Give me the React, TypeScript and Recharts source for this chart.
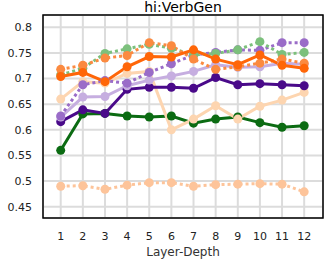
import React from "react";
import { LineChart, Line, XAxis, YAxis, CartesianGrid, ReferenceArea } from "recharts";

const layers = [1, 2, 3, 4, 5, 6, 7, 8, 9, 10, 11, 12];
const darkOrange = [0.704, 0.712, 0.694, 0.723, 0.743, 0.742, 0.756, 0.738, 0.727, 0.746, 0.726, 0.72];
const orangeDotted = [0.718, 0.726, 0.74, 0.745, 0.77, 0.764, 0.738, 0.718, 0.723, 0.73, 0.738, 0.73];
const greenDotted = [0.707, 0.72, 0.749, 0.758, 0.767, 0.759, 0.746, 0.749, 0.756, 0.772, 0.747, 0.751];
const purpleDotted = [0.627, 0.688, 0.696, 0.691, 0.712, 0.729, 0.746, 0.751, 0.756, 0.755, 0.77, 0.77];
const lavender = [0.625, 0.664, 0.665, 0.686, 0.697, 0.705, 0.714, 0.727, 0.722, 0.723, 0.73, 0.728];
const darkPurple = [0.616, 0.639, 0.632, 0.679, 0.683, 0.683, 0.681, 0.702, 0.688, 0.69, 0.688, 0.686];
const peach = [0.66, 0.694, 0.691, 0.71, 0.714, 0.6, 0.621, 0.647, 0.621, 0.646, 0.658, 0.673];
const darkGreen = [0.56, 0.631, 0.632, 0.627, 0.625, 0.627, 0.613, 0.621, 0.625, 0.614, 0.605, 0.608];
const paleDotted = [0.49, 0.491, 0.484, 0.492, 0.497, 0.497, 0.49, 0.493, 0.494, 0.495, 0.494, 0.479];

const yTicks = [0.45, 0.5, 0.55, 0.6, 0.65, 0.7, 0.75, 0.8];

const data = layers.map((l, i) => ({
  layer: l,
  darkOrange: darkOrange[i],
  orangeDotted: orangeDotted[i],
  greenDotted: greenDotted[i],
  purpleDotted: purpleDotted[i],
  lavender: lavender[i],
  darkPurple: darkPurple[i],
  peach: peach[i],
  darkGreen: darkGreen[i],
  paleDotted: paleDotted[i],
}));

const series = [
  { key: "paleDotted", color: "#fdc49a", dotted: true },
  { key: "darkGreen", color: "#0b6b12", dotted: false },
  { key: "peach", color: "#fdd5b0", dotted: false },
  { key: "darkPurple", color: "#4a0a8a", dotted: false },
  { key: "lavender", color: "#c6aee0", dotted: false },
  { key: "purpleDotted", color: "#9a6cc8", dotted: true },
  { key: "greenDotted", color: "#7cc07c", dotted: true },
  { key: "orangeDotted", color: "#fb8a40", dotted: true },
  { key: "darkOrange", color: "#ff6608", dotted: false },
];

const font = "'DejaVu Sans', Verdana, sans-serif";

export default function App() {
  return (
    <div style={{ position: "absolute", left: 0, top: 0, width: 324, height: 259, background: "#fff", fontFamily: font }}>
      <LineChart width={324} height={259} data={data} margin={{ top: 15, right: 1, left: 0, bottom: 0 }}>
        <text x={183} y={12} textAnchor="middle" fontSize={14} fill="#000" fontFamily={font}>
          hi:VerbGen
        </text>
        <CartesianGrid stroke="#dcdcdc" strokeWidth={2} vertical horizontal />
        <XAxis
          dataKey="layer"
          type="number"
          domain={[0.2, 12.85]}
          ticks={layers}
          tickLine={false}
          axisLine={false}
          height={41}
          tick={{ fontSize: 11, fill: "#222", fontFamily: font }}
          tickMargin={8}
          label={{ value: "Layer-Depth", position: "insideBottom", offset: 3, fontSize: 12, fill: "#333", fontFamily: font }}
        />
        <YAxis
          type="number"
          domain={[0.428, 0.824]}
          ticks={yTicks}
          tickLine={false}
          axisLine={false}
          width={43}
          tick={{ fontSize: 11, fill: "#222", fontFamily: font }}
          tickMargin={5}
          allowDataOverflow
        />
        <ReferenceArea x1={0.2} x2={12.85} y1={0.428} y2={0.824} fill="none" stroke="#000" strokeWidth={1.5} ifOverflow="visible" />
        {series.map((s) => (
          <Line
            key={s.key}
            dataKey={s.key}
            stroke={s.color}
            strokeWidth={3}
            strokeDasharray={s.dotted ? "3 3" : undefined}
            dot={{ r: 4.5, fill: s.color, stroke: s.color, strokeWidth: 0 }}
            isAnimationActive={false}
          />
        ))}
      </LineChart>
    </div>
  );
}
